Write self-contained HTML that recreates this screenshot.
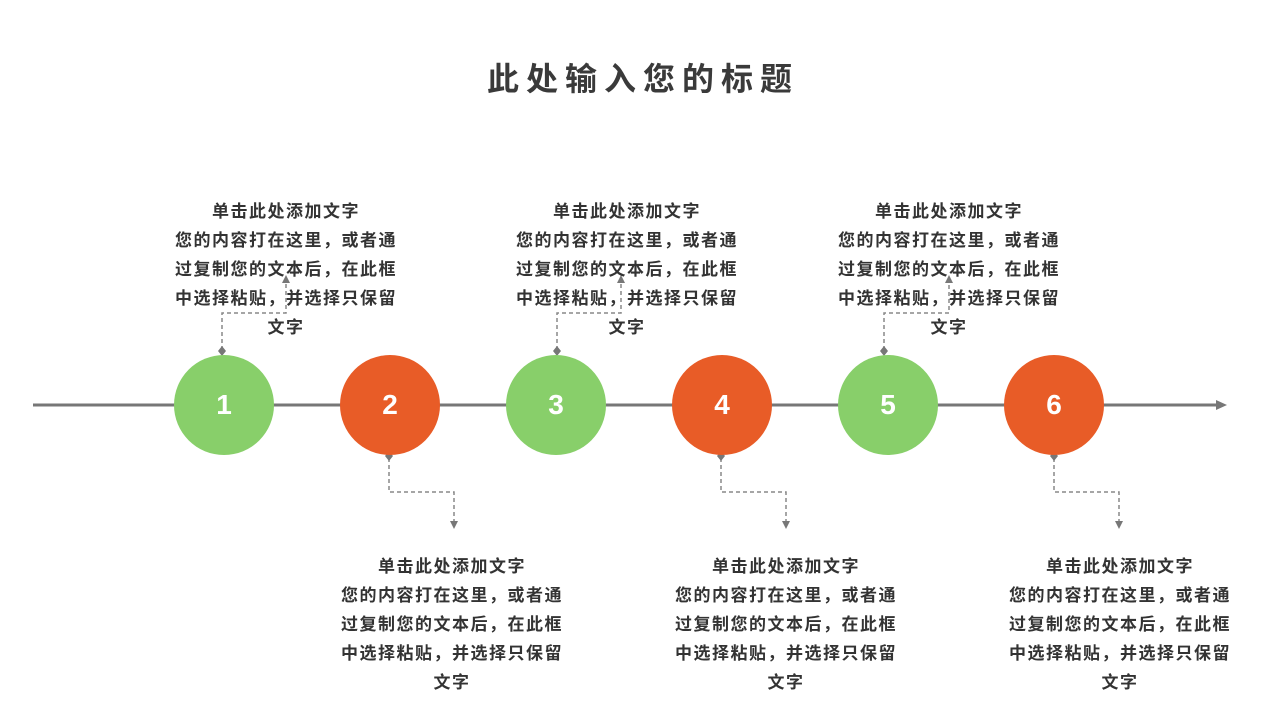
<!DOCTYPE html>
<html><head><meta charset="utf-8"><style>
body{margin:0;width:1280px;height:720px;background:#fff;position:relative;overflow:hidden;font-family:"Liberation Sans","Noto Sans CJK SC",sans-serif;color:#333}
.t{position:absolute;top:54px;left:0;width:1286px;text-align:center;font-size:32px;font-weight:bold;letter-spacing:7px;color:#3a3a3a}
.b{position:absolute;width:240px;text-align:center;font-size:17px;line-height:29px;font-weight:bold;color:#333;letter-spacing:1.5px}
.b p{margin:0;}
.c{position:absolute;width:100px;height:100px;border-radius:50%;top:355px;color:#fff;font-size:28px;font-weight:bold;text-align:center;line-height:100px}
.g{background:#88CF6A}.o{background:#E85C27}
</style></head><body>
<div class="t">此处输入您的标题</div>
<svg width="1280" height="720" style="position:absolute;left:0;top:0">
<line x1="33" y1="405" x2="1218" y2="405" stroke="#777" stroke-width="3"/>
<polygon points="1227,405 1216,400 1216,410" fill="#777"/>
<g stroke="#888" stroke-width="1.5" stroke-dasharray="4,3" fill="none">
<path d="M222 350 V313 H286 V282"/><path d="M557 350 V313 H621 V282"/><path d="M884 350 V313 H949 V282"/>
<path d="M389 458 V492 H454 V522"/><path d="M721 458 V492 H786 V522"/><path d="M1054 458 V492 H1119 V522"/>
</g>
<g fill="#777">
<polygon points="286,275 282,283 290,283"/><polygon points="621,275 617,283 625,283"/><polygon points="949,275 945,283 953,283"/>
<polygon points="454,529 450,521 458,521"/><polygon points="786,529 782,521 790,521"/><polygon points="1119,529 1115,521 1123,521"/>
<polygon points="222,346 226,351 222,356 218,351"/><polygon points="557,346 561,351 557,356 553,351"/><polygon points="884,346 888,351 884,356 880,351"/>
<polygon points="389,451 393,456 389,461 385,456"/><polygon points="721,451 725,456 721,461 717,456"/><polygon points="1054,451 1058,456 1054,461 1050,456"/>
</g>
</svg>
<div class="c g" style="left:174px">1</div>
<div class="c o" style="left:340px">2</div>
<div class="c g" style="left:506px">3</div>
<div class="c o" style="left:672px">4</div>
<div class="c g" style="left:838px">5</div>
<div class="c o" style="left:1004px">6</div>
<div class="b" style="left:166px;top:197px"><p>单击此处添加文字</p><p>您的内容打在这里，或者通<br>过复制您的文本后，在此框<br>中选择粘贴，并选择只保留<br>文字</p></div>
<div class="b" style="left:507px;top:197px"><p>单击此处添加文字</p><p>您的内容打在这里，或者通<br>过复制您的文本后，在此框<br>中选择粘贴，并选择只保留<br>文字</p></div>
<div class="b" style="left:829px;top:197px"><p>单击此处添加文字</p><p>您的内容打在这里，或者通<br>过复制您的文本后，在此框<br>中选择粘贴，并选择只保留<br>文字</p></div>
<div class="b" style="left:332px;top:552px"><p>单击此处添加文字</p><p>您的内容打在这里，或者通<br>过复制您的文本后，在此框<br>中选择粘贴，并选择只保留<br>文字</p></div>
<div class="b" style="left:666px;top:552px"><p>单击此处添加文字</p><p>您的内容打在这里，或者通<br>过复制您的文本后，在此框<br>中选择粘贴，并选择只保留<br>文字</p></div>
<div class="b" style="left:1000px;top:552px"><p>单击此处添加文字</p><p>您的内容打在这里，或者通<br>过复制您的文本后，在此框<br>中选择粘贴，并选择只保留<br>文字</p></div>
</body></html>
